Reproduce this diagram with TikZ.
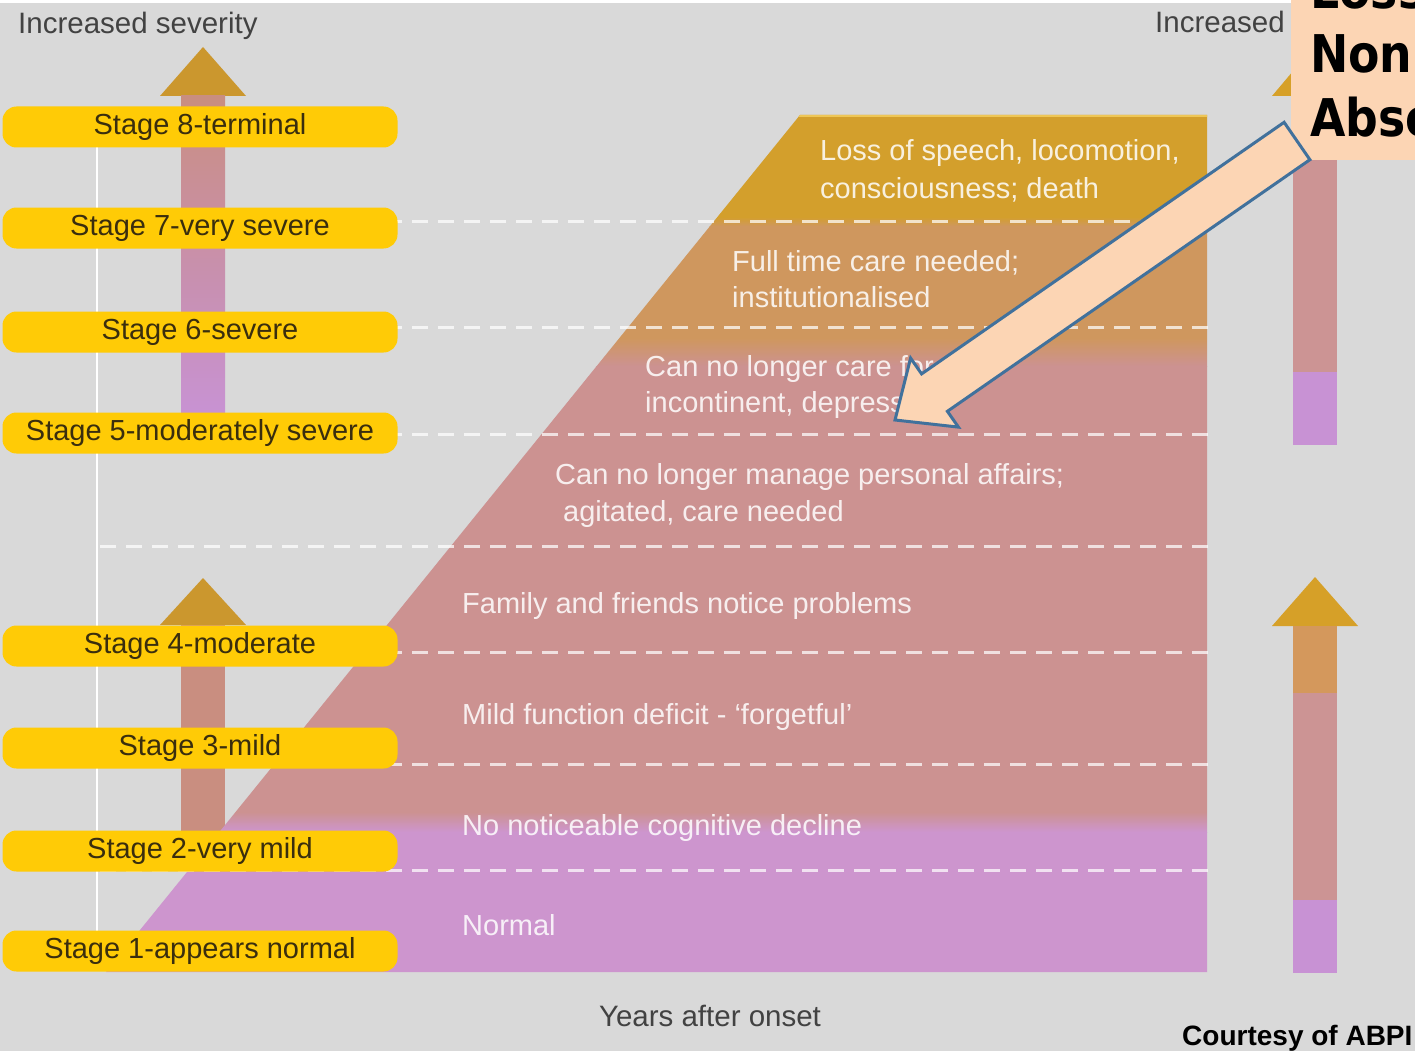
\documentclass[tikz,border=0pt]{standalone}
\usepackage{fontspec}
\setmainfont{Liberation Sans}
\newfontfamily\calloutfont{DejaVu Sans}[FakeStretch=0.88]

\definecolor{bgc}{RGB}{217,217,217}
\definecolor{baryellow}{RGB}{255,203,6}
\definecolor{bartext}{RGB}{58,46,14}
\definecolor{axistext}{RGB}{66,66,66}
\definecolor{goldband}{RGB}{211,159,44}
\definecolor{tanband}{RGB}{207,151,94}
\definecolor{pinkband}{RGB}{204,146,145}
\definecolor{lilacband}{RGB}{205,149,206}
\definecolor{headgold}{RGB}{203,151,46}
\definecolor{headgoldr}{RGB}{214,160,40}
\definecolor{shaftbrown}{RGB}{201,142,128}
\definecolor{shaftmauve}{RGB}{204,144,152}
\definecolor{shaftlilac}{RGB}{200,146,212}
\definecolor{shaftorange}{RGB}{212,152,92}
\definecolor{shaftpink}{RGB}{204,148,148}
\definecolor{peach}{RGB}{252,213,180}
\definecolor{outlineblue}{RGB}{65,113,156}

\begin{document}
\begin{tikzpicture}[x=1pt,y=-1pt,
  stagebar/.style={fill=baryellow, rounded corners=14pt, minimum width=395pt,
    minimum height=41pt, inner sep=0pt, text=bartext,
    font=\fontsize{29}{32}\selectfont},
  bandtext/.style={anchor=base west, inner sep=0pt, text=white, text opacity=0.85,
    font=\fontsize{29}{34}\selectfont},
  axislabel/.style={inner sep=0pt, text=axistext, font=\fontsize{29.5}{34}\selectfont},
  banddash/.style={draw=white, draw opacity=0.72, line width=3pt,
    dash pattern=on 16pt off 10pt},
  calloutline/.style={anchor=base west, inner sep=0pt, text=black,
    font=\calloutfont\bfseries\fontsize{52}{60}\selectfont},
  pointer/.style={draw=outlineblue, line width=3pt, fill=peach, line join=miter}]

\useasboundingbox (0,0) rectangle (1415,1051);
\fill[bgc] (0,0) rectangle (1415,1051);
\fill[white] (0,0) rectangle (1291,3);

% axis line behind the stage bars
\draw[white, line width=2pt] (97,118) -- (97,935);

% left severity arrows
\fill[headgold] (160,96) -- (203,47) -- (246,96) -- cycle;
\shade[top color=shaftbrown, middle color=shaftmauve, bottom color=shaftlilac]
  (181,96) rectangle (225,418);
\fill[headgold] (160,625) -- (203,578) -- (246,625) -- cycle;
\fill[shaftbrown] (181,625) rectangle (225,850);

% staged progression chart
\coordinate (ctl) at (800,115);
\coordinate (ctr) at (1207,115);
\coordinate (cbr) at (1207,972);
\coordinate (cbl) at (106,972);
\begin{scope}
  \clip (ctl) -- (ctr) -- (cbr) -- (cbl) -- cycle;
  \fill[goldband] (100,110) rectangle (1210,217);
  \shade[top color=goldband, bottom color=tanband] (100,217) rectangle (1210,226);
  \fill[tanband] (100,226) rectangle (1210,338);
  \shade[top color=tanband, bottom color=pinkband] (100,338) rectangle (1210,366);
  \fill[pinkband] (100,366) rectangle (1210,812);
  \shade[top color=pinkband, bottom color=lilacband] (100,812) rectangle (1210,832);
  \fill[lilacband] (100,832) rectangle (1210,975);
  \draw[line width=3pt, color={rgb,255:red,238;green,198;blue,86}] (700,116) -- (1210,116);
\end{scope}

% band separators
\foreach \yy in {221,327,434,546,652,764,870}
  \draw[banddash] (100,\yy) -- (1212,\yy);

% band descriptions
\node[bandtext] (d8a) at (820,161) {Loss of speech, locomotion,};
\node[bandtext] (d8b) at (820,198) {consciousness; death};
\node[bandtext] (d7a) at (732,271) {Full time care needed;};
\node[bandtext] (d7b) at (732,307) {institutionalised};
\node[bandtext] (d6a) at (645,376) {Can no longer care for};
\node[bandtext] (d6b) at (645,412) {incontinent, depressed};
\node[bandtext] (d5a) at (555,484) {Can no longer manage personal affairs;};
\node[bandtext] (d5b) at (563,521) {agitated, care needed};
\node[bandtext] (d4) at (462,613) {Family and friends notice problems};
\node[bandtext] (d3) at (462,724) {Mild function deficit - `forgetful'};
\node[bandtext] (d2) at (462,835) {No noticeable cognitive decline};
\node[bandtext] (d1) at (462,935) {Normal};

% stage labels
\node[stagebar] (s8) at (200,127) {Stage 8-terminal};
\node[stagebar] (s7) at (200,228) {Stage 7-very severe};
\node[stagebar] (s6) at (200,332) {Stage 6-severe};
\node[stagebar] (s5) at (200,433) {Stage 5-moderately severe};
\node[stagebar] (s4) at (200,646) {Stage 4-moderate};
\node[stagebar] (s3) at (200,748) {Stage 3-mild};
\node[stagebar] (s2) at (200,851) {Stage 2-very mild};
\node[stagebar] (s1) at (200,951) {Stage 1-appears normal};

% axis captions
\node[axislabel, anchor=base west] (sevl) at (18,34) {Increased severity};
\node[axislabel, anchor=base west] (sevr) at (1155,33) {Increased};
\node[axislabel, anchor=base] (years) at (710,1026) {Years after onset};

% right severity arrows
\fill[headgoldr] (1272,96) -- (1315,45) -- (1358,96) -- cycle;
\fill[shaftpink] (1293,96) rectangle (1337,372);
\fill[shaftlilac] (1293,372) rectangle (1337,445);
\fill[headgoldr] (1272,626) -- (1315,577) -- (1358,626) -- cycle;
\fill[shaftorange] (1293,626) rectangle (1337,693);
\fill[shaftpink] (1293,693) rectangle (1337,900);
\fill[shaftlilac] (1293,900) rectangle (1337,973);

% callout box
\node[fill=peach, inner sep=0pt, minimum width=140pt, minimum height=200pt,
  anchor=south west] (callout) at (1291,160) {};
\node[calloutline] (cl1) at (1310,9) {Loss};
\node[calloutline] (cl2) at (1310,73) {Non};
\node[calloutline] (cl3) at (1310,137) {Abse};

% block arrow from the callout into the chart
\coordinate (ptail1) at (1284.1,122.3);
\coordinate (pneck1) at (921.6,373.9);
\coordinate (pbarb1) at (910.6,358.1);
\coordinate (ptip)   at (895,420);
\coordinate (pbarb2) at (958.4,427.1);
\coordinate (pneck2) at (947.4,411.3);
\coordinate (ptail2) at (1309.9,159.7);
\draw[pointer] (ptail1) -- (pneck1) -- (pbarb1) -- (ptip) -- (pbarb2)
  -- (pneck2) -- (ptail2) -- cycle;

% credit
\node[inner sep=0pt, anchor=base west, text=black,
  font=\bfseries\fontsize{28}{30}\selectfont] (credit) at (1182,1045) {Courtesy of ABPI};
\end{tikzpicture}
\end{document}
